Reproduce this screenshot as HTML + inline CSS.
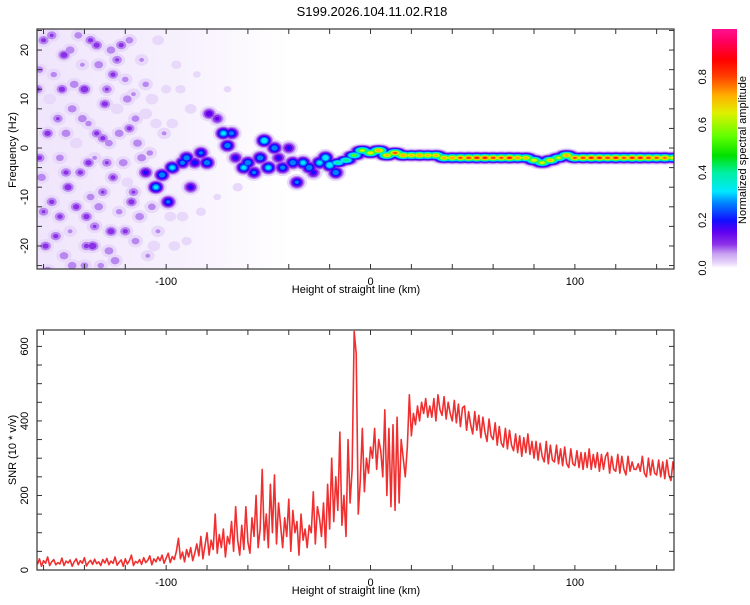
<!DOCTYPE html>
<html><head><meta charset="utf-8">
<style>
html,body{margin:0;padding:0;background:#fff;}
svg text{font-family:"Liberation Sans",sans-serif;fill:#000;}
</style></head>
<body>
<svg id="chart" width="750" height="600" viewBox="0 0 750 600" xmlns="http://www.w3.org/2000/svg">
<defs>
<linearGradient id="cbar" x1="0" y1="1" x2="0" y2="0">
<stop offset="0" stop-color="#ffffff"/><stop offset="0.02" stop-color="#e8d8fa"/><stop offset="0.06" stop-color="#c8a0f0"/>
<stop offset="0.10" stop-color="#8c30e8"/><stop offset="0.15" stop-color="#6000f0"/><stop offset="0.20" stop-color="#1010ff"/>
<stop offset="0.27" stop-color="#0080ff"/><stop offset="0.32" stop-color="#00e8ff"/><stop offset="0.40" stop-color="#00f0a0"/>
<stop offset="0.47" stop-color="#00e000"/><stop offset="0.55" stop-color="#60ff00"/><stop offset="0.65" stop-color="#e0f000"/>
<stop offset="0.72" stop-color="#ffb000"/><stop offset="0.80" stop-color="#ff4000"/><stop offset="0.87" stop-color="#ff0000"/>
<stop offset="0.95" stop-color="#ff0060"/><stop offset="1" stop-color="#ff1090"/>
</linearGradient>
<linearGradient id="haze" x1="0" y1="0" x2="1" y2="0">
<stop offset="0" stop-color="#e6d4fa" stop-opacity="0.6"/><stop offset="0.55" stop-color="#e6d4fa" stop-opacity="0.35"/><stop offset="1" stop-color="#e6d4fa" stop-opacity="0"/>
</linearGradient>
<clipPath id="clipTop"><rect x="37" y="29" width="637" height="240"/></clipPath>
<clipPath id="clipBot"><rect x="37" y="330" width="637" height="240"/></clipPath>
</defs>
<text x="372" y="16" font-size="13" text-anchor="middle">S199.2026.104.11.02.R18</text>
<g id="topPanel"></g>
<g id="botPanel"></g>
<g id="cbPanel"></g>
</svg>
<script>
// ---------- data ----------
const xTicksMajor = [-100, 0, 100];
const xTicksMinor = [-160,-140,-120,-100,-80,-60,-40,-20,0,20,40,60,80,100,120,140];
const freqTickLabels = [20, 10, 0, -10, -20];
const freqTicksMinor = [-24,-20,-16,-12,-8,-4,0,4,8,12,16,20,24];
const snrTickLabels = [0, 200, 400, 600];
const snrTicksMinor = [0,50,100,150,200,250,300,350,400,450,500,550,600];
const cbTickLabels = [0.0, 0.2, 0.4, 0.6, 0.8];

const ridgeKm = [-16,-12,-8,-4,0,4,8,12,16,20,24,28,32,36,40,44,48,52,56,60,64,68,72,76,80,84,88,92,96,100,104,108,112,116,120,124,128,132,136,140,144,148];
const ridgeF = [-3,-2.5,-1.5,-0.5,-1,-0.5,-1.5,-1,-1.5,-1.5,-1.5,-1.5,-1.5,-2,-2,-2,-2,-2,-2,-2,-2,-2,-2,-2,-2.5,-3,-2.5,-2,-1.5,-2,-2,-2,-2,-2,-2,-2,-2,-2,-2,-2,-2,-2];
const ridgeA = [.5,.55,.6,.7,.75,.85,.8,.9,.85,.8,.85,.8,.8,.82,.85,.9,.92,.95,.95,.92,.9,.95,.85,.8,.75,.72,.8,.7,.85,.9,.92,.95,.95,.92,.95,.9,.95,.95,.92,.9,.88,.75];

const blobKm = [-160,-155,-150,-146,-158,-152,-148,-160,-154,-150,-143,-140,-138,-142,-139,-136,-133,-130,-128,-131,-127,-125,-122,-120,-118,-121,-117,-115,-112,-110,-108,-113,-106,-104,-100,-98,-157,-144,-135,-124,-119,-147,-132,-161,-162,-153,-141,-137,-129,-126,-116,-111,-109,-145,-134,-123,-156,-149,-159,-140,-127,-114,-103,-105,-95,-90,-85,
 -110,-105,-102,-99,-97,-92,-90,-88,-86,-83,-80,-79,-75,-72,-70,-68,-66,-62,-60,-57,-54,-52,-50,-47,-45,-43,-40,-38,-36,-33,-30,-28,-25,-22,-20,-17,
 -163,-158,-151,-147,-144,-141,-137,-135,-131,-128,-126,-123,-120,-118,-116,-112,-110,-107,-104,-101,-152,-156,-162,-146,-138,-133,-124,-119,-115,-107,-97,-93,-88,-83,-75,-70,-65,-92,-96,-134,-149,-139,-129];
const blobF = [22,15,19,8,3,-2,-8,-13,-18,-22,23,12,5,-5,-14,-20,17,9,1,-9,-17,-23,21,14,4,-3,-11,-19,18,7,-1,-14,-20,22,12,-14,10,1,-2,8,-7,-17,-24,-6,16,6,17,-10,12,-6,11,-5,-22,13,3,-13,-11,3,-20,-24,20,1,-8,5,17,-19,15,
 -5,-8,-5.5,-11,-4,-3,-2,-8,-3,-1,-3,7,6,3,0.5,3,-2,-4,-3,-5,-2,1.5,-4,0,-2,-4,0,-3,-7,-3,-4,-5,-3,-2,-3.5,-5,
 12,-25,12,20,-12,6,22,-16,2,-21,15,3,-17,22,-9,-2,13,-12,-17,3,-14,23,-2,-24,-3,-12,18,10,6,10,5,12,8,-13,-10,12,-8,-14,-20,21,-5,-20,-3];
const blobA = [.12,.08,.14,.1,.13,.09,.14,.11,.12,.1,.09,.15,.08,.12,.13,.15,.1,.13,.09,.11,.14,.1,.12,.08,.12,.1,.13,.09,.07,.06,.08,.1,.06,.05,.04,.05,.06,.06,.07,.06,.05,.07,.08,.1,.09,.11,.07,.09,.11,.12,.07,.09,.07,.1,.12,.08,.12,.1,.13,.09,.1,.1,.07,.05,.04,.04,.03,
 .22,.4,.35,.3,.4,.32,.35,.22,.25,.3,.35,.2,.17,.4,.35,.32,.22,.4,.35,.3,.35,.45,.4,.35,.22,.32,.22,.35,.3,.4,.35,.22,.4,.45,.45,.35,
 .12,.1,.13,.1,.13,.1,.12,.11,.12,.1,.12,.1,.12,.09,.11,.1,.08,.09,.07,.07,.12,.11,.12,.1,.13,.1,.11,.1,.09,.06,.05,.04,.05,.04,.03,.03,.04,.05,.05,.13,.12,.12,.11];

const snrStartKm = -163;
const snrValues = [
15,30,10,25,18,35,12,22,28,14,
20,16,32,12,24,19,27,10,22,30,
14,25,18,33,11,20,26,15,29,17,
22,12,28,19,31,14,24,18,35,13,
21,27,10,30,16,25,40,12,23,19,
28,15,33,20,26,38,14,30,22,35,
25,40,18,32,45,20,36,28,50,85,
30,48,22,55,35,60,25,45,70,38,
90,30,65,100,40,80,55,150,45,95,
60,110,35,90,70,130,50,170,80,40,
120,55,170,75,45,140,90,200,60,110,
270,80,150,60,230,100,255,70,180,120,
60,140,90,190,50,160,100,130,40,150,
80,110,60,120,100,210,70,170,140,90,
180,60,230,110,300,130,250,160,370,120,
200,90,350,180,270,640,580,150,240,380,
210,300,260,
330,300,380,270,350,320,250,430,200,380,
170,390,160,410,180,350,300,250,330,470,
360,420,390,440,400,450,420,460,410,440,
410,460,400,470,430,415,465,405,450,420,
400,455,395,445,385,435,440,375,425,390,
365,425,375,415,355,410,370,345,405,360,
350,395,335,385,340,330,380,325,375,335,
320,365,315,360,305,355,315,365,310,345,
300,345,295,340,305,290,345,285,335,295,
290,335,285,325,280,330,285,275,325,285,
280,320,275,315,270,315,275,325,270,310,
275,315,265,310,270,305,315,260,305,270,
265,310,260,305,270,255,305,265,290,270,
270,285,265,305,260,250,300,255,295,260,
255,295,250,290,245,295,255,240,290,250];

// ---------- scales ----------
const NS = 'http://www.w3.org/2000/svg';
const PL = 37, PR = 674;
const KM0 = -163.2, KM1 = 148.5;
function xs(km){ return PL + (km - KM0) / (KM1 - KM0) * (PR - PL); }
const T0 = 29, T1 = 269, F0 = -24.7, F1 = 24.3;
function yf(f){ return T1 - (f - F0) / (F1 - F0) * (T1 - T0); }
const B0 = 330, B1 = 570, S0 = 0, S1 = 644;
function ys(v){ return B1 - (v - S0) / (S1 - S0) * (B1 - B0); }

const stops = [[0,'#ffffff'],[0.02,'#e8d8fa'],[0.06,'#b888f0'],[0.10,'#8c30e8'],[0.15,'#6000f0'],[0.20,'#1010ff'],[0.27,'#0080ff'],[0.32,'#00e8ff'],[0.40,'#00f0a0'],[0.47,'#00e000'],[0.55,'#60ff00'],[0.65,'#e0f000'],[0.72,'#ffb000'],[0.80,'#ff4000'],[0.87,'#ff0000'],[0.95,'#ff0060'],[1,'#ff1090']];
function cmap(v){
  for (let i=0;i<stops.length;i++) if (Math.abs(stops[i][0]-v)<1e-9) return stops[i][1];
  for (let i=1;i<stops.length;i++) if (v<stops[i][0]) return stops[i-1][1];
  return stops[stops.length-1][1];
}
function mk(tag, attrs, parent){
  const e = document.createElementNS(NS, tag);
  for (const k in attrs) e.setAttribute(k, attrs[k]);
  parent.appendChild(e);
  return e;
}

// ---------- top panel ----------
const topG = document.getElementById('topPanel');
const heat = mk('g', {'clip-path':'url(#clipTop)'}, topG);


const hz = mk('rect', {x:PL, y:T0, width:xs(-40)-PL, height:T1-T0, fill:'url(#haze)'}, heat);


const levels = [0.02,0.06,0.1,0.15,0.2,0.27,0.35,0.45,0.55,0.65,0.75,0.85,0.93];
const BS = 3.6, RSX = 5.5, RSY = 2.6;
levels.forEach(L => {
  const col = cmap(L);
  for (let i=0;i<blobKm.length;i++){
    const a = blobA[i]; if (a <= L) continue;
    const r = Math.sqrt(2*Math.log(a/L));
    const c = mk('ellipse', {cx:xs(blobKm[i]), cy:yf(blobF[i]), rx:(BS*r*1.2).toFixed(2), ry:(BS*r).toFixed(2), fill:col}, heat);
    
    
  }
  for (let i=0;i<ridgeKm.length;i++){
    const a = ridgeA[i]; if (a <= L) continue;
    const r = Math.sqrt(2*Math.log(a/L));
    const c = mk('ellipse', {cx:xs(ridgeKm[i]), cy:yf(ridgeF[i]), rx:(RSX*r).toFixed(2), ry:(RSY*r).toFixed(2), fill:col}, heat);
    
    
  }
});

function frame(g, y0, y1, name){
  const r = mk('rect', {x:PL, y:y0, width:PR-PL, height:y1-y0, fill:'none', stroke:'#333', 'stroke-width':1.2}, g);
  
  
  xTicksMinor.forEach(v => {
    const x = xs(v);
    const t1 = mk('line', {x1:x, x2:x, y1:y1, y2:y1-5, stroke:'#333'}, g);
    
    
    const t2 = mk('line', {x1:x, x2:x, y1:y0, y2:y0+5, stroke:'#333'}, g);
    
    
  });
  xTicksMajor.forEach(v => {
    const t = mk('text', {x:xs(v), y:y1+16, 'font-size':11, 'text-anchor':'middle'}, g);
    t.textContent = v;
    
    
  });
  const xl = mk('text', {x:356, y:y1+24, 'font-size':11, 'text-anchor':'middle'}, g);
  xl.textContent = 'Height of straight line (km)';
  
  
}
frame(topG, T0, T1, 'spectrogram-frame');
freqTicksMinor.forEach(v => {
  const y = yf(v);
  const a = mk('line', {x1:PL, x2:PL+5, y1:y, y2:y, stroke:'#333'}, topG);
  
  
  const b = mk('line', {x1:PR, x2:PR-5, y1:y, y2:y, stroke:'#333'}, topG);
  
  
});
freqTickLabels.forEach(v => {
  const y = yf(v);
  const t = mk('text', {x:28, y:y, 'font-size':11, 'text-anchor':'middle', transform:`rotate(-90 28 ${y})`}, topG);
  t.textContent = v;
  
  
});
const fy = mk('text', {x:16, y:150, 'font-size':11, 'text-anchor':'middle', transform:'rotate(-90 16 150)'}, topG);
fy.textContent = 'Frequency (Hz)';



// ---------- bottom panel ----------
const botG = document.getElementById('botPanel');
let d = '';
snrValues.forEach((v,i) => { d += (i?'L':'M') + xs(snrStartKm+i).toFixed(2) + ',' + ys(v).toFixed(2); });
const ln = mk('path', {d:d, fill:'none', stroke:'#f03030', 'stroke-width':1.6, 'stroke-linejoin':'round', 'clip-path':'url(#clipBot)'}, botG);


frame(botG, B0, B1, 'snr-frame');
snrTicksMinor.forEach(v => {
  const y = ys(v);
  const a = mk('line', {x1:PL, x2:PL+5, y1:y, y2:y, stroke:'#333'}, botG);
  
  
  const b = mk('line', {x1:PR, x2:PR-5, y1:y, y2:y, stroke:'#333'}, botG);
  
  
});
snrTickLabels.forEach(v => {
  const y = ys(v);
  const t = mk('text', {x:28, y:y, 'font-size':11, 'text-anchor':'middle', transform:`rotate(-90 28 ${y})`}, botG);
  t.textContent = v;
  
  
});
const sy = mk('text', {x:16, y:450, 'font-size':11, 'text-anchor':'middle', transform:'rotate(-90 16 450)'}, botG);
sy.textContent = 'SNR (10 * v/v)';



// ---------- colorbar ----------
const cbG = document.getElementById('cbPanel');
const CB0 = 29, CB1 = 268;
const bar = mk('rect', {x:712, y:CB0, width:25, height:CB1-CB0, fill:'url(#cbar)'}, cbG);


cbTickLabels.forEach(v => {
  const y = CB1 - v*(CB1-CB0);
  const t = mk('text', {x:706, y:y, 'font-size':11, 'text-anchor':'middle', transform:`rotate(-90 706 ${y})`}, cbG);
  t.textContent = v.toFixed(1);
  
  
});
const ct = mk('text', {x:746, y:150, 'font-size':11, 'text-anchor':'middle', transform:'rotate(-90 746 150)'}, cbG);
ct.textContent = 'Normalized spectral amplitude';


</script>
</body></html>
